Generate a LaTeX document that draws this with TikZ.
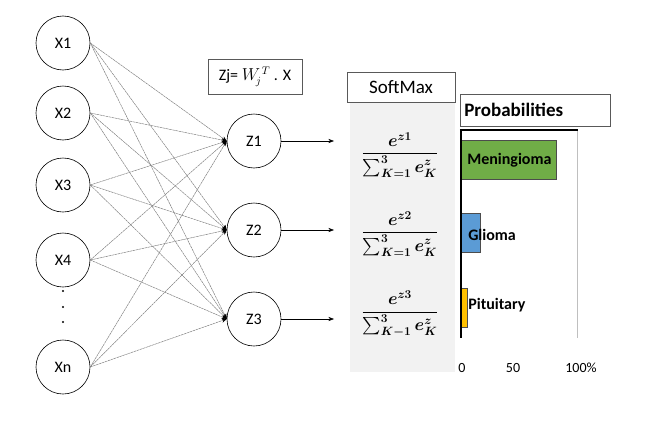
\documentclass[tikz,border=0pt]{standalone}
\usepackage{amsmath}
\usepackage{fontspec}
\setmainfont{Carlito}
\usetikzlibrary{arrows.meta,positioning}
\definecolor{mgreen}{HTML}{70AD47}
\definecolor{gblue}{HTML}{5B9BD5}
\definecolor{pyellow}{HTML}{FFC000}

\begin{document}
\begin{tikzpicture}[x=1pt,y=-1pt,
  neuron/.style={draw, circle, minimum size=54pt, inner sep=0pt, font=\fontsize{16}{18}\selectfont},
  wire/.style={gray, line width=0.5pt, dash pattern=on 2.5pt off 0.6pt, -{Stealth[length=5pt,width=4pt,black]}},
  label/.style={draw=gray!70!black, fill=white, inner sep=0pt},
  frac/.style={font=\fontsize{16.5}{18}\selectfont},
  barlbl/.style={anchor=west, inner sep=0pt, font=\fontsize{16}{18}\selectfont\bfseries},
  bar/.style={draw=gray!60!black, line width=0.4pt},
  tick/.style={font=\fontsize{14}{16}\selectfont},
  >=Stealth, line width=0.6pt
]
  \useasboundingbox (0,0) rectangle (650,423);

  % input layer
  \node[neuron] (x1) at (63,43)  {X1};
  \node[neuron] (x2) at (63,113) {X2};
  \node[neuron] (x3) at (63,185) {X3};
  \node[neuron] (x4) at (63,260) {X4};
  \node[neuron] (xn) at (63,367) {Xn};
  \foreach \y in {291,307,322}
    \fill (63,\y) circle (1.1pt);

  % output layer
  \node[neuron] (z1) at (254,141) {Z1};
  \node[neuron] (z2) at (254,230) {Z2};
  \node[neuron] (z3) at (254,319) {Z3};

  \foreach \i in {x1,x2,x3,x4,xn}
    \foreach \j in {z1,z2,z3}
      \draw[wire] (\i.east) -- (\j.west);

  \node[label, minimum width=94pt, minimum height=35pt, font=\fontsize{16}{18}\selectfont]
    (zj) at (255,77) {Zj= $W_{\!j}^{\,T}$ . X};

  % softmax column
  \fill[gray!10] (350,102) rectangle (455,372);
  \node[label, minimum width=108pt, minimum height=30pt, font=\fontsize{19}{21}\selectfont]
    (smx) at (401,87) {SoftMax};
  \node[frac] (f1) at (400,155) {$\dfrac{\boldsymbol{e^{z1}}}{\boldsymbol{\sum_{K=1}^{3} e_K^{z}}}$};
  \node[frac] (f2) at (400,234) {$\dfrac{\boldsymbol{e^{z2}}}{\boldsymbol{\sum_{K=1}^{3} e_K^{z}}}$};
  \node[frac] (f3) at (400,314) {$\dfrac{\boldsymbol{e^{z3}}}{\boldsymbol{\sum_{K-1}^{3} e_K^{z}}}$};

  \coordinate (in1) at (334,141);
  \coordinate (in2) at (334,230);
  \coordinate (in3) at (334,319);
  \draw[->] (z1) -- (in1);
  \draw[->] (z2) -- (in2);
  \draw[->] (z3) -- (in3);

  % probabilities chart
  \node[label, anchor=west, minimum width=150pt, minimum height=32pt, text width=142pt,
    align=left, font=\fontsize{19}{21}\selectfont\bfseries]
    (prob) at (460,110) {Probabilities};
  \draw[gray!50] (577,130) -- (577,338);
  \draw[bar, fill=mgreen]  (461,140) rectangle (556,179);
  \draw[bar, fill=gblue]   (461,213) rectangle (480,252);
  \draw[bar, fill=pyellow] (461,288) rectangle (467,327);
  \draw[line width=2.5pt] (459.75,130) -- (578,130);
  \draw[line width=2.5pt] (461,130) -- (461,338);

  \node[barlbl] (men) at (467,160) {Meningioma};
  \node[barlbl] (gli) at (468,235) {Glioma};
  \node[barlbl] (pit) at (468,305) {Pituitary};

  \node[tick] (t0)   at (462,368) {0};
  \node[tick] (t50)  at (513,368) {50};
  \node[tick] (t100) at (581,368) {100\%};
\end{tikzpicture}
\end{document}
